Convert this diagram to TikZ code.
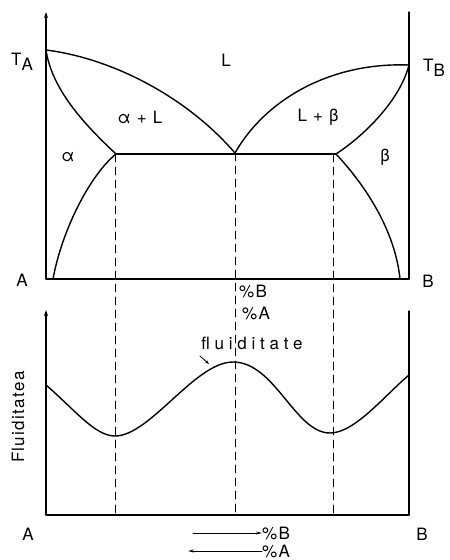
\documentclass[tikz,border=0pt]{standalone}
\usepackage{fontspec}
\setmainfont{TeX Gyre Heros}
\usetikzlibrary{arrows.meta}

\tikzset{
  axis/.style={line width=1.3pt},
  curve/.style={line width=1.4pt},
  guide/.style={line width=0.9pt, dash pattern=on 8pt off 5pt},
  lbl/.style={inner sep=0pt, font=\fontsize{17}{20}\selectfont\addfontfeatures{LetterSpace=8}},
}

\begin{document}
\begin{tikzpicture}[x=1pt, y=-1pt, line cap=round, line join=round]

  %% ════ 控制点 ════
  \coordinate (TA) at (46,50);
  \coordinate (TB) at (409,65);
  \coordinate (E)  at (235,153);
  \coordinate (Ea) at (116,154);
  \coordinate (Eb) at (336,154);
  \coordinate (Sa) at (53,279);
  \coordinate (Sb) at (400,279);

  %% ════ 上图：坐标轴 ════
  \draw[axis, -{Stealth[length=6pt,width=4pt]}] (46,279) -- (46,12);
  \draw[axis] (409,12) -- (409,279);
  \draw[axis] (46,279) -- (409,279);

  %% ════ 上图：相图曲线 ════
  \draw[curve] (TA) .. controls (110,58) and (185,95) .. (E);
  \draw[curve] (E) .. controls (265,100) and (330,62) .. (TB);
  \draw[curve] (TA) .. controls (52,90) and (85,125) .. (Ea);
  \draw[curve] (Ea) .. controls (90,175) and (62,230) .. (Sa);
  \draw[curve] (Eb) .. controls (365,135) and (400,100) .. (TB);
  \draw[curve] (Eb) .. controls (365,185) and (395,230) .. (Sb);
  \draw[curve] (Ea) -- (Eb);

  %% ════ 下图：坐标轴 ════
  \draw[axis, -{Stealth[length=6pt,width=4pt]}] (46,515) -- (46,310);
  \draw[axis] (409,311) -- (409,515);
  \draw[axis] (46,515) -- (409,515);

  %% ════ 虚线 ════
  \draw[guide] (115,154) -- (115,515);
  \draw[guide] (235,153) -- (235,515);
  \draw[guide] (333,154) -- (333,515);

  %% ════ 下图：流动性曲线 ════
  \coordinate (F0) at (46,385);
  \coordinate (F1) at (115,436);
  \coordinate (F2) at (233,362);
  \coordinate (F3) at (330,433);
  \coordinate (F4) at (409,375);
  \draw[curve] (F0) .. controls (75,410) and (95,436) .. (F1)
                    .. controls (150,436) and (195,362) .. (F2)
                    .. controls (275,362) and (295,433) .. (F3)
                    .. controls (355,433) and (385,395) .. (F4);

  %% ════ 标签 ════
  \node[lbl] (tA) at (22,62) {T\raisebox{-5pt}{A}};
  \node[lbl] (tB) at (434,68) {T\raisebox{-5pt}{B}};
  \node[lbl] (L)  at (226,60) {L};
  \node[lbl] (aL) at (140,117) {α + L};
  \node[lbl] (Lb) at (318,117) {L + β};
  \node[lbl] (al) at (68,157) {α};
  \node[lbl] (be) at (385,157) {β};
  \node[lbl] (A1) at (22,280) {A};
  \node[lbl] (B1) at (428,281) {B};
  \node[lbl] (pB1) at (253,291) {\%B};
  \node[lbl] (pA1) at (256,313) {\%A};
  \node[lbl, font=\fontsize{17}{20}\selectfont\addfontfeatures{LetterSpace=28}] (fl) at (252,343) {fluiditate};
  \draw[line width=0.8pt, -{Stealth[length=4pt,width=3pt]}] (200,356) -- (209,364);
  \node[lbl, rotate=90] (Fy) at (18,417) {Fluiditatea};
  \node[lbl] (A2) at (28,534) {A};
  \node[lbl] (B2) at (422,534) {B};
  \node[lbl, anchor=west] (pB2) at (262,533) {\%B};
  \node[lbl, anchor=west] (pA2) at (262,551) {\%A};
  \draw[line width=0.9pt, -{Stealth[length=6pt,width=3pt]}] (193,533) -- (pB2.west);
  \draw[line width=0.9pt, -{Stealth[length=6pt,width=3pt]}] (pA2.west) -- (188,551);

  \pgfresetboundingbox
  \path[use as bounding box] (0,0) rectangle (450,560);
\end{tikzpicture}
\end{document}
